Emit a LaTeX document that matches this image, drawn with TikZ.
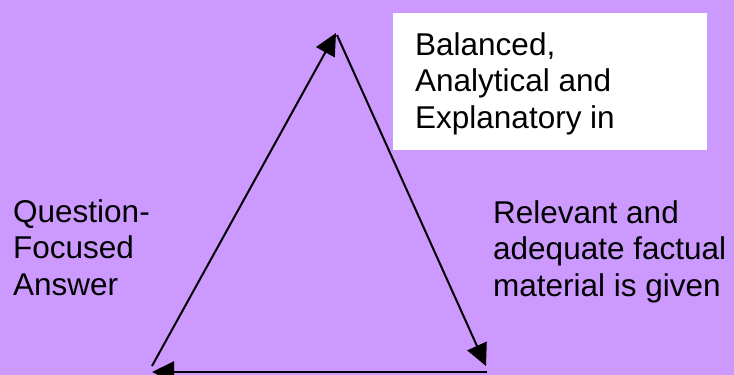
\documentclass[tikz,border=0pt]{standalone}
\usepackage{fontspec}
\setmainfont{Liberation Sans}
\usetikzlibrary{arrows.meta}
\definecolor{bgpurple}{RGB}{204,153,255}
\tikzset{
  lbl/.style={anchor=north west, inner sep=0pt, align=left, font=\fontsize{31.5}{36.5}\selectfont, text=black},
  arr/.style={line width=2pt, -{Triangle[length=22pt,width=21pt]}}
}
\begin{document}
\begin{tikzpicture}[x=1pt,y=-1pt]
\fill[bgpurple] (0,0) rectangle (734,375);
\useasboundingbox (0,0) rectangle (734,375);
\fill[white] (393,13) rectangle (707,150);
\node[lbl] (top) at (415,32) {Balanced,\\Analytical and\\Explanatory in};
\node[lbl] (left) at (13,199) {Question-\\Focused\\Answer};
\node[lbl] (right) at (493,200) {Relevant and\\adequate factual\\material is given};
\coordinate (apexA) at (336,33);
\coordinate (apexB) at (337,35);
\coordinate (blA) at (152,366);
\coordinate (blB) at (152,372);
\coordinate (brA) at (486,366);
\coordinate (brB) at (487,372);
\draw[arr] (blA) -- (apexA);
\draw[arr] (apexB) -- (brA);
\draw[arr] (brB) -- (blB);
\end{tikzpicture}
\end{document}
